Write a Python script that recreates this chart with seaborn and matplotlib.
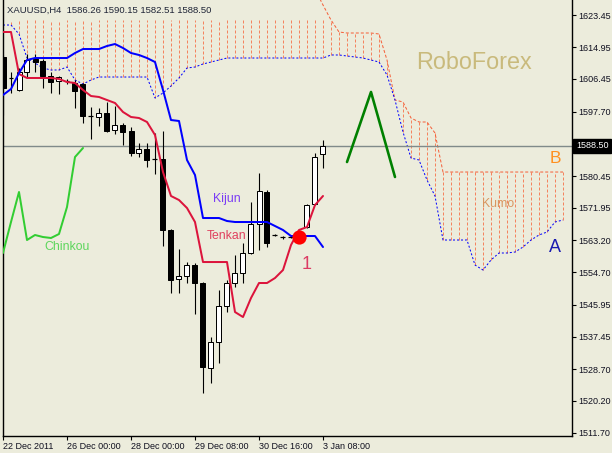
import numpy as np
import pandas as pd
import matplotlib
matplotlib.use("Agg")
import matplotlib.pyplot as plt
import matplotlib.transforms as mtransforms
import seaborn as sns

# ---------------- data (prices) ----------------
bars = list(range(41))
opens = [1612.33, 1606.71, 1603.49, 1608.31, 1611.80, 1611.26, 1607.24, 1605.90, 1605.90, 1605.37,
         1605.10, 1596.53, 1596.26, 1597.33, 1592.78, 1594.11, 1592.51, 1586.61, 1587.69, 1585.01,
         1585.01, 1565.99, 1552.86, 1553.66, 1556.61, 1551.79, 1529.02, 1535.99, 1545.63, 1551.79,
         1554.47, 1559.83, 1567.59, 1576.17, 1564.65, 1564.11, 1564.11, 1563.85, 1566.79, 1572.95,
         1586.26]
closes = [1604.03, 1606.60, 1608.31, 1611.53, 1610.99, 1607.24, 1605.63, 1606.97, 1605.95, 1603.22,
          1596.53, 1596.55, 1597.33, 1592.51, 1594.11, 1592.24, 1586.61, 1587.69, 1584.74, 1585.03,
          1565.99, 1552.59, 1553.66, 1556.61, 1551.79, 1529.29, 1535.99, 1545.63, 1551.79, 1554.47,
          1559.83, 1567.59, 1576.43, 1562.51, 1564.63, 1564.13, 1564.09, 1564.65, 1572.68, 1585.54,
          1588.50]
highs = [1612.87, 1608.31, 1609.38, 1613.13, 1613.13, 1611.80, 1608.31, 1607.24, 1606.44, 1606.17,
         1605.37, 1598.94, 1598.67, 1600.28, 1599.20, 1594.65, 1593.58, 1589.29, 1589.29, 1591.97,
         1592.51, 1566.26, 1560.90, 1557.41, 1557.15, 1552.06, 1537.32, 1549.91, 1552.59, 1559.29,
         1562.51, 1573.49, 1581.26, 1576.70, 1564.80, 1564.38, 1564.40, 1564.92, 1572.95, 1586.61,
         1590.15]
lows = [1596.79, 1602.69, 1603.22, 1606.97, 1608.31, 1604.03, 1602.69, 1602.42, 1605.10, 1598.67,
        1594.65, 1590.36, 1593.85, 1592.24, 1591.70, 1588.76, 1585.81, 1585.54, 1582.86, 1580.99,
        1561.70, 1549.11, 1549.11, 1551.79, 1543.49, 1522.32, 1525.00, 1530.36, 1544.02, 1550.72,
        1551.79, 1559.56, 1560.63, 1561.43, 1564.50, 1563.58, 1563.80, 1563.58, 1566.52, 1572.68,
        1582.51]

tenkan = [1619.03, 1619.03, 1607.78, 1606.71, 1606.71, 1606.71, 1606.71, 1606.44, 1605.63, 1605.37,
          1603.49, 1601.88, 1601.62, 1600.81, 1600.01, 1597.60, 1596.26, 1595.99, 1594.92, 1591.44,
          1581.52, 1575.10, 1574.02, 1571.88, 1568.13, 1557.41, 1557.41, 1557.41, 1557.41, 1544.02,
          1542.68, 1547.77, 1551.79, 1551.79, 1553.13, 1555.27, 1561.97, 1565.99, 1566.79, 1572.68,
          1575.10]
kijun = [1602.15, 1603.76, 1608.04, 1611.53, 1612.06, 1612.06, 1612.06, 1612.06, 1612.06, 1613.40,
         1614.47, 1614.47, 1614.47, 1615.28, 1615.81, 1614.74, 1613.40, 1612.87, 1612.06, 1610.99,
         1603.49, 1595.45, 1595.19, 1584.74, 1580.72, 1569.20, 1569.20, 1569.20, 1568.40, 1568.13,
         1568.13, 1568.13, 1568.13, 1568.13, 1567.06, 1565.99, 1564.38, 1564.38, 1564.38, 1564.38,
         1561.43]
chinkou_bars = list(range(11))
chinkou = [1559.83, 1568.13, 1576.17, 1563.31, 1564.65, 1564.11, 1563.85, 1564.92, 1572.15, 1585.54,
           1587.95]

cloud_bars = list(range(71))
senkou_a = [1620.90, 1620.90, 1618.49, 1612.06, 1610.72, 1609.38, 1608.85, 1608.85, 1609.65, 1606.17,
            1605.10, 1606.17, 1606.97, 1606.97, 1606.97, 1606.97, 1606.97, 1606.97, 1606.97, 1601.35,
            1602.69, 1604.56, 1606.71, 1609.38, 1609.65, 1610.46, 1610.99, 1611.53, 1612.06, 1612.06,
            1612.06, 1612.06, 1612.06, 1612.06, 1612.06, 1612.06, 1612.06, 1612.06, 1612.06, 1612.06,
            1612.06, 1612.87, 1612.87, 1612.60, 1612.33, 1612.06, 1611.53, 1610.99, 1607.51, 1600.81,
            1592.24, 1585.27, 1584.74, 1579.38, 1575.10, 1563.31, 1563.31, 1563.31, 1563.31, 1556.61,
            1555.27, 1557.95, 1559.83, 1559.83, 1560.09, 1561.43, 1563.31, 1564.65, 1565.45, 1568.13,
            1568.67]
senkou_b = [1630.50] * 40 + [1626.26, 1622.24, 1619.03, 1618.76, 1618.76, 1618.76, 1618.76, 1618.49,
                             1611.53, 1600.81, 1600.28, 1595.99, 1594.92, 1594.92, 1591.97] + [1581.52] * 16

arrow_bars = [43, 46, 49]
arrow_prices = [1584.20, 1602.96, 1580.19]
cross_bar = 37
cross_price = 1564.11

date_ticks = [0, 8, 16, 24, 32, 40]
date_labels = ["22 Dec 2011", "26 Dec 00:00", "28 Dec 00:00", "29 Dec 08:00", "30 Dec 16:00", "3 Jan 08:00"]
price_ticks = [1623.45, 1614.95, 1606.45, 1597.70, 1580.45, 1571.95, 1563.20, 1554.70,
               1545.95, 1537.45, 1528.70, 1520.20, 1511.70]
last_price = 1588.50
header = "XAUUSD,H4  1586.26 1590.15 1582.51 1588.50"

# ---------------- style ----------------
BG = "#ECECDC"
sns.set_style("white")
plt.rcParams["font.family"] = ["Liberation Sans", "DejaVu Sans"]

W, H = 612, 453
fig = plt.figure(figsize=(W / 100, H / 100), dpi=100, facecolor=BG)
ax = fig.add_axes([3 / W, 17 / H, 569 / W, 436 / H], facecolor=BG)
PX = 0.72  # one pixel in points
Y_LO, Y_HI = 1510.81, 1627.60
hist_top = Y_HI - 20 * (Y_HI - Y_LO) / 436  # histogram is cut below the header strip

# cloud histogram (vertical dashed lines between span A and span B)
ax.vlines(cloud_bars, senkou_a, np.minimum(senkou_b, hist_top), colors="#F4845F", linewidth=PX,
          linestyles=(0, (3, 2)), zorder=1)
sns.lineplot(x=cloud_bars, y=senkou_b, ax=ax, color="#F5603A", linewidth=PX,
             linestyle=(0, (3, 2)), estimator=None, sort=False, zorder=2)
sns.lineplot(x=cloud_bars, y=senkou_a, ax=ax, color="#0000FF", linewidth=PX,
             linestyle=(0, (2, 2)), estimator=None, sort=False, zorder=2)

# current price line
ax.axhline(last_price, color="#808A8A", linewidth=1.0, zorder=2)

# candles
o = np.array(opens); c = np.array(closes); hi = np.array(highs); lo = np.array(lows)
x = np.array(bars)
ax.vlines(x, lo, hi, colors="black", linewidth=PX * 1.1, zorder=3)
bw = 0.625
for xi, oi, ci in zip(x, o, c):
    if abs(ci - oi) < 0.15:
        ax.hlines(oi, xi - bw / 2, xi + bw / 2, colors="black", linewidth=PX * 1.2, zorder=4)
    else:
        fc = "white" if ci > oi else "black"
        ax.bar(xi, abs(ci - oi), bottom=min(oi, ci), width=bw, color=fc,
               edgecolor="black", linewidth=PX, zorder=4)

# ichimoku lines
sns.lineplot(x=chinkou_bars, y=chinkou, ax=ax, color="#32CD32", linewidth=2 * PX,
             estimator=None, sort=False, zorder=5)
sns.lineplot(x=bars, y=tenkan, ax=ax, color="#DC143C", linewidth=2 * PX,
             estimator=None, sort=False, zorder=5)
sns.lineplot(x=bars, y=kijun, ax=ax, color="#0000FF", linewidth=2 * PX,
             estimator=None, sort=False, zorder=5)

# hand drawn green arrow and cross marker
sns.lineplot(x=arrow_bars, y=arrow_prices, ax=ax, color="#008000", linewidth=2.6 * PX,
             estimator=None, sort=False, zorder=5)
ax.scatter([cross_bar], [cross_price], s=105, color="#FF0000", zorder=6, linewidths=0)

# axes limits
ax.set_xlim(0, 569 / 8)
ax.set_ylim(Y_LO, Y_HI)

# annotation texts
ax.text(58.9, 1610.99, "RoboForex", fontsize=16.8, color="#C9BA7C", ha="center", va="center", zorder=1)
ax.text(28.0, 1574.29, "Kijun", fontsize=8.8, color="#7A3CF5", ha="center", va="center", zorder=7)
ax.text(27.9, 1564.38, "Tenkan", fontsize=8.8, color="#E0405E", ha="center", va="center", zorder=7)
ax.text(8.0, 1561.43, "Chinkou", fontsize=8.8, color="#5CD65C", ha="center", va="center", zorder=7)
ax.text(61.9, 1572.95, "Kumo", fontsize=8.8, color="#D9955F", ha="center", va="center", zorder=7)
ax.text(69.0, 1585.01, "B", fontsize=12.5, color="#FF9020", ha="center", va="center", zorder=7)
ax.text(69.0, 1561.17, "A", fontsize=13, color="#1A1AB0", ha="center", va="center", zorder=7)
ax.text(37.9, 1556.88, "1", fontsize=13, color="#DC3C64", ha="center", va="center", zorder=7)
fig.text(7 / W, 1 - 10.5 / H, header, fontsize=6.8, color="#1E2436", ha="left", va="center")

# spines
for s in ["left", "bottom", "right"]:
    ax.spines[s].set_visible(True)
    ax.spines[s].set_color("black")
    ax.spines[s].set_linewidth(1.0)
ax.spines["top"].set_visible(False)

# y axis on right
ax.yaxis.tick_right()
ax.set_yticks(price_ticks)
ax.set_yticklabels([f"{p:.2f}" for p in price_ticks])
ax.tick_params(axis="y", which="major", right=True, left=False, length=3, width=0.8,
               pad=1.5, labelsize=6.5, labelcolor="#101020", color="black", direction="out")

# x axis
ax.set_xticks(date_ticks)
ax.set_xticklabels(date_labels, ha="left")
ax.tick_params(axis="x", which="major", bottom=True, length=3, width=0.8, pad=1.0,
               labelsize=6.5, labelcolor="#101020", color="black", direction="out")
ax.set_xlabel("")
ax.set_ylabel("")
ax.grid(False)

# last price box on the right axis
trans = mtransforms.blended_transform_factory(ax.transAxes, ax.transData)
ax.text(1.0 + 4 / 569, last_price, f"{last_price:.2f}", transform=trans, fontsize=6.5,
        color="white", ha="left", va="center", zorder=8, clip_on=False,
        bbox=dict(boxstyle="square,pad=0.3", fc="black", ec="black"))

fig.savefig("out.png", dpi=100, facecolor=BG)
